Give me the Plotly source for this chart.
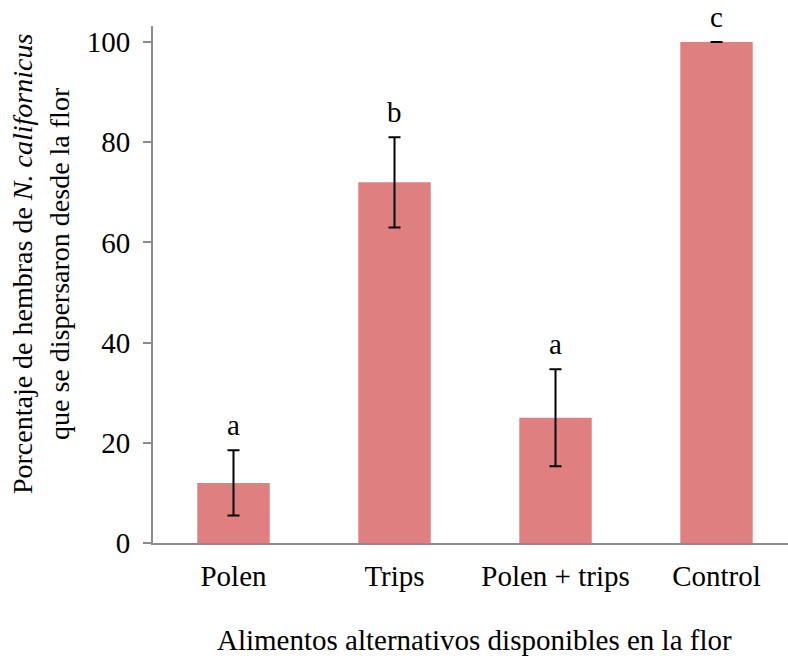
import plotly.graph_objects as go

# Mean % of N. californicus females that dispersed, per food treatment
categories = ["Polen", "Trips", "Polen + trips", "Control"]
means = [12, 72, 25, 100]
errors = [6.5, 9, 9.7, 0]
letters = ["a", "b", "a", "c"]

FONT = "Liberation Serif, Times New Roman, serif"
AXIS_GREY = "#8c8c8c"
BAR_COLOR = "#E07F80"

fig = go.Figure()
fig.add_trace(go.Bar(
    x=categories,
    y=means,
    marker=dict(color=BAR_COLOR, line=dict(width=0)),
    error_y=dict(type="data", array=errors, visible=True,
                 color="black", thickness=2, width=6),
    hoverinfo="x+y",
))

# Significance letters above each error bar
for cat, m, e, lab in zip(categories, means, errors, letters):
    fig.add_annotation(
        x=cat, y=m + e, text=lab, showarrow=False,
        yanchor="bottom", yshift=7,
        font=dict(family=FONT, size=29, color="black"),
    )

# Axis titles
fig.add_annotation(
    xref="paper", yref="paper", x=-0.176, y=0.54,
    text="Porcentaje de hembras de <i>N. californicus</i><br>que se dispersaron desde la flor",
    textangle=-90, showarrow=False, xanchor="center", yanchor="middle",
    font=dict(family=FONT, size=28, color="black"),
)
fig.add_annotation(
    xref="paper", yref="paper", x=0.507, y=-0.1876,
    text="Alimentos alternativos disponibles en la flor",
    showarrow=False, xanchor="center", yanchor="middle",
    font=dict(family=FONT, size=29, color="black"),
)

fig.update_layout(
    width=788, height=663,
    margin=dict(l=153, r=0, t=26, b=120),
    paper_bgcolor="white", plot_bgcolor="white",
    bargap=0.55,
    showlegend=False,
    font=dict(family=FONT, size=29, color="black"),
)
fig.update_xaxes(
    range=[-0.5, 3.444],
    showline=True, linecolor=AXIS_GREY, linewidth=2,
    ticks="", showgrid=False, zeroline=False,
    tickfont=dict(family=FONT, size=29, color="black"),
    ticklabelstandoff=6,
)
fig.update_yaxes(
    range=[0, 103.2], tickmode="array", tickvals=[0, 20, 40, 60, 80, 100],
    showline=True, linecolor=AXIS_GREY, linewidth=2,
    ticks="outside", ticklen=8, tickwidth=2, tickcolor=AXIS_GREY,
    showgrid=False, zeroline=False,
    tickfont=dict(family=FONT, size=29, color="black"),
    ticklabelstandoff=7,
)

fig.write_html("out.html")
